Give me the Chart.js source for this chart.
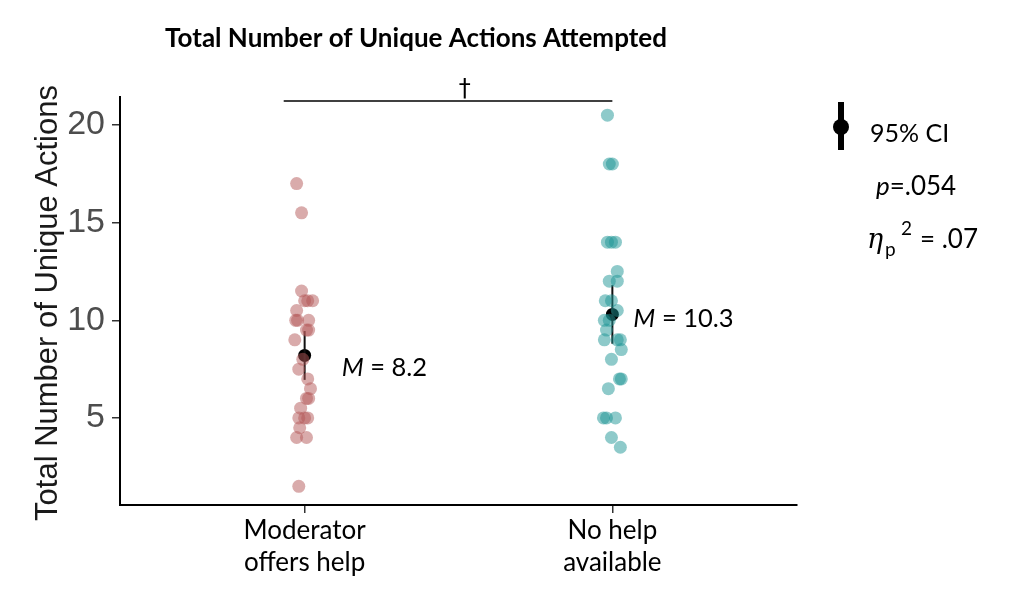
<!DOCTYPE html>
<html>
<head>
<meta charset="utf-8">
<script src="https://cdn.jsdelivr.net/npm/chart.js@4.4.1/dist/chart.umd.min.js"></script>
<style>
html,body{margin:0;padding:0;background:#fff;}
#wrap{width:1023px;height:609px;position:relative;}
</style>
</head>
<body>
<div id="wrap"><canvas id="c" width="1023" height="609"></canvas></div>
<script>
// ---- data ----
const categories = ["Moderator\noffers help", "No help\navailable"];
const yTicks = [5, 10, 15, 20];

const helpValues  = [17, 15.5, 11.5, 11, 11, 11, 10.5, 10, 10, 10, 9.5, 9.5, 9, 8, 7.5, 7, 6.5, 6, 6, 5.5, 5, 5, 5, 4.5, 4, 4, 1.5];
const helpJitter  = [-0.026, -0.010, -0.010, 0, 0.010, 0.026, -0.026, -0.029, -0.023, 0.013, 0.006, 0.013, -0.032, -0.006, -0.019, 0.010, 0.019, 0.006, 0.013, -0.013, -0.019, 0, 0.010, -0.016, -0.026, 0.006, -0.019];

const noHelpValues = [20.5, 18, 18, 14, 14, 14, 12.5, 12, 12, 11, 11, 10.5, 10, 10, 9.5, 9, 9, 9, 8.5, 8, 7, 7, 6.5, 5, 5, 5, 4, 3.5];
const noHelpJitter = [-0.016, -0.010, 0, -0.016, -0.003, 0.010, 0.016, -0.010, 0.016, -0.023, -0.003, 0.016, -0.026, -0.010, -0.019, -0.026, 0.016, 0.026, 0.029, -0.003, 0.023, 0.029, -0.013, -0.029, -0.019, 0.010, -0.003, 0.026];

const means   = [8.2, 10.3];
const ciLow   = [6.95, 8.8];
const ciHigh  = [9.45, 11.8];
const meanLabels = ["8.2", "10.3"];
const bracketY = 21.23;
const bracketX = [0.932, 2];
const daggerX = 1.52;

const helpColor = "rgba(180, 88, 88, 0.5)";
const noHelpColor = "rgba(30, 150, 150, 0.5)";

const helpPts = helpValues.map((v, i) => ({x: 1 + helpJitter[i], y: v}));
const noHelpPts = noHelpValues.map((v, i) => ({x: 2 + noHelpJitter[i], y: v}));

const datasets = [
  {type:'scatter', data: helpPts, backgroundColor: helpColor, borderWidth: 0, pointRadius: 6.5, pointHoverRadius: 6.5},
  {type:'scatter', data: noHelpPts, backgroundColor: noHelpColor, borderWidth: 0, pointRadius: 6.5, pointHoverRadius: 6.5},
];
means.forEach((m, i) => {
  datasets.push({type:'line', data:[{x:i+1,y:ciLow[i]},{x:i+1,y:ciHigh[i]}], borderColor:'#111', borderWidth:2, pointRadius:0, fill:false});
});
datasets.push({type:'scatter', data: means.map((m,i)=>({x:i+1,y:m})), backgroundColor:'#000', borderWidth:0, pointRadius:6.5});
datasets.push({type:'line', data:[{x:bracketX[0],y:bracketY},{x:bracketX[1],y:bracketY}], borderColor:'#000', borderWidth:1.5, pointRadius:0, clip:false, fill:false});

const textPlugin = {
  id: 'texts',
  afterDraw(chart) {
    const ctx = chart.ctx;
    const xs = chart.scales.x, ys = chart.scales.y;
    ctx.save();
    ctx.fillStyle = '#000';
    // title
    ctx.font = 'bold 26px Lato';
    ctx.textAlign = 'center';
    ctx.textBaseline = 'alphabetic';
    ctx.fillText('Total Number of Unique Actions Attempted', 416, 47);
    // y title
    ctx.save();
    ctx.translate(57, 303);
    ctx.rotate(-Math.PI/2);
    ctx.font = '31px "Liberation Sans"';
    ctx.fillStyle = '#1a1a1a';
    ctx.fillText('Total Number of Unique Actions', 0, 0);
    ctx.restore();
    // dagger
    ctx.font = '24px "DejaVu Sans"';
    ctx.textAlign = 'center';
    ctx.fillText('\u2020', xs.getPixelForValue(daggerX), ys.getPixelForValue(bracketY) - 5);
    // mean labels
    const offs = [37, 21];
    means.forEach((m, i) => {
      const px = xs.getPixelForValue(i+1) + offs[i];
      const py = ys.getPixelForValue(m) + (i===0 ? 21 : 13);
      ctx.textAlign = 'left';
      ctx.font = 'italic 25.5px Lato';
      ctx.fillText('M', px, py);
      const w = ctx.measureText('M').width;
      ctx.font = '25.5px Lato';
      ctx.fillText(' = ' + meanLabels[i], px + w, py);
    });
    // legend
    ctx.fillRect(838, 102, 6, 48);
    ctx.beginPath();
    ctx.arc(841, 127, 8, 0, Math.PI*2);
    ctx.fill();
    ctx.font = '25px Lato';
    ctx.textAlign = 'left';
    ctx.fillText('95% CI', 870, 142);
    // p value
    ctx.font = 'italic 26px Lato';
    ctx.fillText('p', 876, 195);
    const w = ctx.measureText('p').width;
    ctx.font = '26px Lato';
    ctx.fillText('=.054', 876 + w, 195);
    // eta
    ctx.font = 'italic 27px "DejaVu Serif"';
    ctx.fillText('\u03B7', 867, 248);
    ctx.font = '19px Lato';
    ctx.fillText('p', 885, 256);
    ctx.fillText('2', 901, 235);
    ctx.font = '26px Lato';
    ctx.fillText('= .07', 920, 248);
    ctx.restore();
  }
};

new Chart(document.getElementById('c'), {
  data: { datasets },
  options: {
    responsive: false,
    animation: false,
    events: [],
    layout: { padding: { left: 0, right: 226, top: 97, bottom: 0 } },
    plugins: { legend: { display: false }, tooltip: { enabled: false } },
    scales: {
      x: {
        type: 'linear', min: 0.4, max: 2.6,
        afterFit(s) { s.height = 104; },
        afterBuildTicks(s) { s.ticks = categories.map((c, i) => ({value: i + 1})); },
        ticks: {
          callback(v) { const i = Math.round(v) - 1; return categories[i] ? categories[i].split('\n') : ''; },
          font: { family: 'Lato', size: 26, lineHeight: 1.25 }, color: '#000', padding: 1, maxRotation: 0, autoSkip: false
        },
        grid: { drawOnChartArea: false, drawTicks: true, tickLength: 8, color: '#333', lineWidth: 1.5 },
        border: { display: true, color: '#000', width: 2 }
      },
      y: {
        type: 'linear', min: 0.545, max: 21.43,
        afterFit(s) { s.width = 120; },
        afterBuildTicks(s) { s.ticks = yTicks.map(v => ({value: v})); },
        ticks: { font: { family: 'Liberation Sans', size: 34 }, color: '#4d4d4d', padding: 7 },
        grid: { drawOnChartArea: false, drawTicks: true, tickLength: 8, color: '#333', lineWidth: 1.5 },
        border: { display: true, color: '#000', width: 2 }
      }
    }
  },
  plugins: [textPlugin]
});
</script>
</body>
</html>
